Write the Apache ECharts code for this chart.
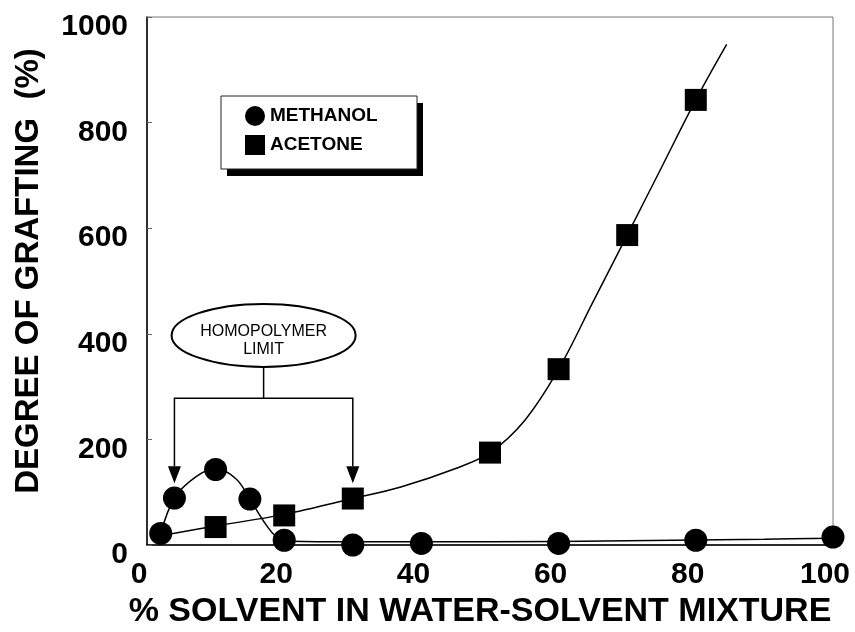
<!DOCTYPE html>
<html><head><meta charset="utf-8">
<script src="https://cdn.jsdelivr.net/npm/echarts@6/dist/echarts.min.js"></script>
<style>html,body{margin:0;padding:0;background:#fff}#c{width:855px;height:632px}</style>
</head><body><div id="c"></div>
<script>
// ---- data ----
const xTicks = [0, 20, 40, 60, 80, 100];
const yTicks = [0, 200, 400, 600, 800, 1000];
const methanolPoints = [[2,22],[4,89],[10,143],[15,87],[20,9],[30,0],[40,3],[60,3],[80,9],[100,15]];
const acetonePoints  = [[10,34],[20,56],[30,88],[50,175],[60,333],[70,587],[80,843]];
const methanolCurve = [[2,22],[4,89],[7,128],[10,146],[13,125],[15,87],[17,45],[19,14],[21,7],[30,6],[50,6],[70,8],[90,11],[100,13]];
const acetoneCurve  = [[3,20],[10,36],[20,58],[30,88],[37,110],[45,145],[50,175],[55,235],[60,333],[65,460],[70,587],[75,715],[80,843],[84.5,948]];
const limitArrowX = [4, 30];
const limitBarY = 278;
const limitTipY = 117;
const limitBubble = [17, 397];

const FONT = 'Liberation Sans, Arial, sans-serif';
const chart = echarts.init(document.getElementById('c'));
chart.setOption({
  animation: false,
  backgroundColor: '#fff',
  grid: {left: 147, right: 22, top: 17, bottom: 87, show: true, borderColor: '#777', borderWidth: 1,
         containLabel: false, outerBoundsMode: 'none'},
  xAxis: {
    type: 'value', min: xTicks[0], max: xTicks[xTicks.length-1], interval: xTicks[1]-xTicks[0],
    name: '% SOLVENT IN WATER-SOLVENT MIXTURE', nameLocation: 'middle', nameGap: 50,
    nameTextStyle: {fontFamily: FONT, fontWeight: 'bold', fontSize: 34, color: '#000', padding: [0, 20, 0, 0]},
    axisLine: {lineStyle: {color: '#000', width: 1.5}},
    axisTick: {show: false},
    splitLine: {show: false},
    axisLabel: {fontFamily: FONT, fontWeight: 'bold', fontSize: 30, color: '#000', margin: 15,
      formatter: v => '{a|' + v + '}', rich: {a: {fontFamily: FONT, fontWeight: 'bold', fontSize: 30, color: '#000', padding: [0, 16, 0, 0]}}}
  },
  yAxis: {
    type: 'value', min: yTicks[0], max: yTicks[yTicks.length-1], interval: yTicks[1]-yTicks[0],
    name: 'DEGREE OF GRAFTING  (%)', nameLocation: 'middle', nameGap: 102, nameRotate: 90,
    nameTextStyle: {fontFamily: FONT, fontWeight: 'bold', fontSize: 33, color: '#000', padding: [0, 0, 0, 20]},
    axisLine: {lineStyle: {color: '#000', width: 1.5}},
    axisTick: {show: true, inside: true, length: 5, lineStyle: {color: '#666'}},
    splitLine: {show: false},
    axisLabel: {fontFamily: FONT, fontWeight: 'bold', fontSize: 30, color: '#000', margin: 19,
      formatter: v => '{b|' + v + '}', rich: {b: {fontFamily: FONT, fontWeight: 'bold', fontSize: 30, color: '#000', padding: [20, 0, 0, 0]}}}
  },
  legend: {
    orient: 'vertical', left: 221, top: 96, padding: [10, 22, 14, 24],
    itemWidth: 20, itemHeight: 20, itemGap: 9, itemTextGap: 23, selectedMode: false, z: 6,
    textStyle: {fontFamily: FONT, fontWeight: 'bold', fontSize: 19, color: '#000'},
    data: [{name: 'METHANOL', icon: 'circle', itemStyle: {color: '#000', opacity: 1}},
           {name: 'ACETONE', icon: 'rect', itemStyle: {color: '#000', opacity: 1}}]
  },
  series: [
    {name: 'methanol fit', type: 'line', data: methanolCurve, smooth: 0.35, showSymbol: false, symbol: 'none',
     lineStyle: {color: '#000', width: 1.5}, z: 2, silent: true},
    {name: 'acetone fit', type: 'line', data: acetoneCurve, smooth: 0.35, showSymbol: false, symbol: 'none',
     lineStyle: {color: '#000', width: 1.5}, z: 2, silent: true},
    {name: 'METHANOL', type: 'scatter', data: methanolPoints, symbol: 'circle', symbolSize: 23,
     itemStyle: {color: '#000', opacity: 1}, z: 3},
    {name: 'ACETONE', type: 'scatter', data: acetonePoints, symbol: 'rect', symbolSize: 22,
     itemStyle: {color: '#000', opacity: 1}, z: 3}
  ]
});

// ---- "HOMOPOLYMER LIMIT" annotation, placed via the chart's scales ----
const px = p => chart.convertToPixel({gridIndex: 0}, p);
const a1Top = px([limitArrowX[0], limitBarY]);
const a2Top = px([limitArrowX[1], limitBarY]);
const a1Tip = px([limitArrowX[0], limitTipY]);
const a2Tip = px([limitArrowX[1], limitTipY]);
const bub = px(limitBubble);
const barMid = px([limitBubble[0], limitBarY]);
const rx = 92, ry = 31.5, headH = 17, headW = 6.5;
const ls = {stroke: '#000', lineWidth: 1.5, fill: null};
const arrowHead = tip => ({type: 'polygon', shape: {points: [[tip[0], tip[1]], [tip[0]-headW, tip[1]-headH], [tip[0]+headW, tip[1]-headH]]}, style: {fill: '#000'}, z: 10});
chart.setOption({
  graphic: [
    // legend frame with drop shadow
    {type: 'rect', shape: {x: 227, y: 103, width: 196, height: 73}, style: {fill: '#000'}, z: 4},
    {type: 'rect', shape: {x: 221, y: 96, width: 196, height: 73}, style: {fill: '#fff', stroke: '#222', lineWidth: 1}, z: 5},
    {type: 'polyline', shape: {points: [[a1Tip[0], a1Tip[1]-headH], a1Top, a2Top, [a2Tip[0], a2Tip[1]-headH]]}, style: ls, z: 10},
    {type: 'line', shape: {x1: barMid[0], y1: barMid[1], x2: bub[0], y2: bub[1]+ry}, style: ls, z: 10},
    arrowHead(a1Tip), arrowHead(a2Tip),
    {type: 'ellipse', shape: {cx: bub[0], cy: bub[1], rx: rx, ry: ry}, style: {fill: '#fff', stroke: '#000', lineWidth: 2}, z: 10},
    {type: 'text', x: bub[0], y: bub[1] + 5, z: 11,
     style: {text: 'HOMOPOLYMER\nLIMIT', fontFamily: FONT, fontSize: 16, lineHeight: 18, fill: '#000', align: 'center', verticalAlign: 'middle'}}
  ]
});
</script></body></html>
